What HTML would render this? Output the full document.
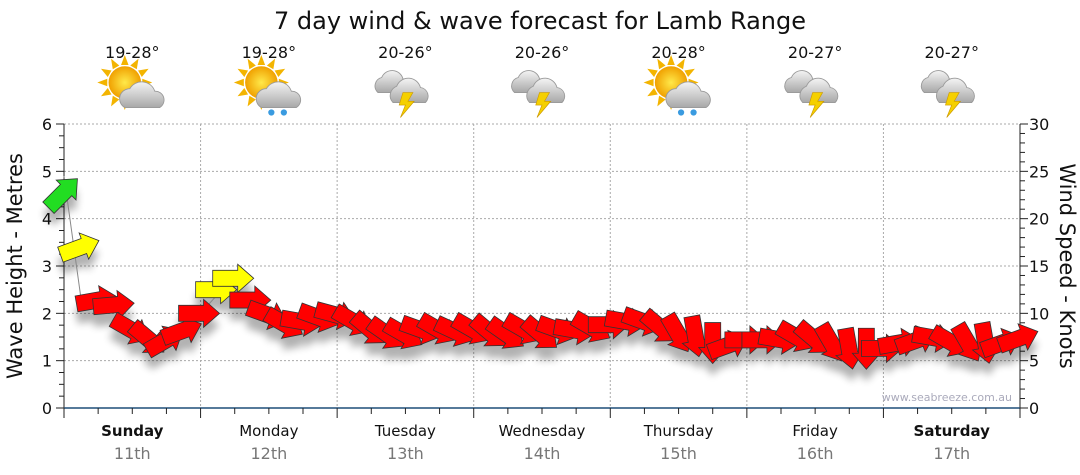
<!DOCTYPE html>
<html><head><meta charset="utf-8"><style>
body{margin:0;background:#fff;}
svg{display:block;font-family:"DejaVu Sans","Liberation Sans",sans-serif;}
</style></head><body>
<svg id="c" width="1080" height="475" viewBox="0 0 1080 475">
<defs>
<filter id="sh" x="-50%" y="-50%" width="200%" height="250%"><feGaussianBlur stdDeviation="4"/></filter>
<radialGradient id="sun" cx="0.5" cy="0.5" r="0.5"><stop offset="0" stop-color="#ffe94a"/><stop offset="1" stop-color="#f0a000"/></radialGradient>
<linearGradient id="cloud" x1="0" y1="0" x2="0" y2="1"><stop offset="0" stop-color="#f4f4f4"/><stop offset="1" stop-color="#a8a8a8"/></linearGradient>
</defs>
<text x="540" y="29" text-anchor="middle" font-size="24" fill="#111">7 day wind &amp; wave forecast for Lamb Range</text>
<g id="grid"></g><g id="axes"></g><g id="icons"></g>
<g id="shadows" filter="url(#sh)" opacity="0.3"></g>
<polyline id="wave" fill="none" stroke="#888" stroke-width="1"/>
<g id="arrows"></g>
<text x="1012" y="401" text-anchor="end" font-size="11" fill="#aab">www.seabreeze.com.au</text>
<text transform="translate(22,266) rotate(-90)" text-anchor="middle" font-size="21" fill="#111">Wave Height - Metres</text>
<text transform="translate(1060,266) rotate(90)" text-anchor="middle" font-size="21" fill="#111">Wind Speed - Knots</text>
</svg>
<script>
const days=["Sunday","Monday","Tuesday","Wednesday","Thursday","Friday","Saturday"];
const dates=["11th","12th","13th","14th","15th","16th","17th"];
const temps=["19-28°","19-28°","20-26°","20-26°","20-28°","20-27°","20-27°"];
const icons=["sun-cloud","sun-rain","storm","storm","sun-rain","storm","storm"];
const windKnots=[22.8,17,11.4,10.9,8.2,7.2,7.2,8.2,10,12.5,13.7,11.4,9.8,8.8,9.1,9.5,9.8,9.1,8.2,7.7,7.7,8.2,8.2,8,8.2,7.9,7.7,8.2,7.7,8.2,8.2,8.4,8.8,9.1,9.1,8.4,7.7,7.4,6.7,6.7,7.2,7.2,7.2,7.4,7.2,6.7,6.1,6.1,6.3,6.9,7.2,7.4,6.9,6.7,6.7,6.9,7.4];
const windDir=[-45,-20,-10,-5,30,40,-30,-20,0,0,0,0,20,30,10,20,15,30,40,35,30,20,30,25,30,40,35,30,40,20,10,30,0,10,20,40,60,80,90,-20,0,0,10,30,40,60,80,90,0,-10,-20,10,30,60,80,-20,-20];
const waveM=[4.9,2.3,2.2,2.1,1.65,1.45,1.4,1.6,2.0,2.4,2.5,2.3,2.0,1.8,1.8,1.9,1.95,1.8,1.65,1.55,1.55,1.65,1.65,1.6,1.65,1.6,1.55,1.65,1.55,1.65,1.65,1.7,1.75,1.8,1.8,1.7,1.55,1.5,1.35,1.35,1.45,1.45,1.45,1.5,1.45,1.35,1.25,1.25,1.3,1.4,1.45,1.5,1.4,1.35,1.35,1.4,1.5];
const yLeft=[0,1,2,3,4,5,6];
const yRight=[0,5,10,15,20,25,30];
const NS="http://www.w3.org/2000/svg";
const X0=64,X1=1020,Y0=408,Y1=124;
const xs=h=>X0+(X1-X0)*h/168;
const yM=m=>Y0-(Y0-Y1)*m/6;
const yK=k=>Y0-(Y0-Y1)*k/30;
function mk(tag,attrs,parent){const e=document.createElementNS(NS,tag);for(const k in attrs)e.setAttribute(k,attrs[k]);parent.appendChild(e);return e;}
const grid=document.getElementById('grid'),axes=document.getElementById('axes'),ic=document.getElementById('icons');
yLeft.forEach(m=>{if(m>0){const l=mk('line',{x1:X0,x2:X1,y1:yM(m),y2:yM(m),stroke:'#aaa','stroke-dasharray':'2,2'},grid);}
 const t=mk('text',{x:X0-12,y:yM(m)+6,'text-anchor':'end','font-size':16,fill:'#111'},axes);t.textContent=m;});
for(let q=0;q<=24;q++){const y=yM(q/4);mk('line',{x1:X0-(q%4==0?8:5),x2:X0,y1:y,y2:y,stroke:'#222'},axes);}
yRight.forEach(k=>{const t=mk('text',{x:X1+9,y:yK(k)+6,'font-size':16,fill:'#111'},axes);t.textContent=k;});
for(let q=0;q<=30;q++){const y=yK(q);mk('line',{x1:X1,x2:X1+(q%5==0?8:5),y1:y,y2:y,stroke:'#222'},axes);}
mk('line',{x1:X0,x2:X0,y1:Y1,y2:Y0,stroke:'#222'},axes);
mk('line',{x1:X1,x2:X1,y1:Y1,y2:Y0,stroke:'#222'},axes);
mk('line',{x1:X0,x2:X1,y1:Y0,y2:Y0,stroke:'#1f4e79','stroke-width':1.5},axes);
for(let h=0;h<=168;h+=6){mk('line',{x1:xs(h),x2:xs(h),y1:Y0,y2:Y0+(h%24==0?10:6),stroke:'#222'},axes);}
days.forEach((d,i)=>{
 if(i>0){const l=mk('line',{x1:xs(i*24),x2:xs(i*24),y1:Y1,y2:Y0,stroke:'#aaa','stroke-dasharray':'2,2'},grid);}
 const cx=xs(i*24+12);
 const bold=(i==0||i==6);
 const t=mk('text',{x:cx,y:436,'text-anchor':'middle','font-size':15,fill:'#111','font-weight':bold?'bold':'normal'},axes);t.textContent=d;
 const t2=mk('text',{x:cx,y:459,'text-anchor':'middle','font-size':16,fill:'#777'},axes);t2.textContent=dates[i];
 const t3=mk('text',{x:cx,y:58,'text-anchor':'middle','font-size':16,fill:'#111'},ic);t3.textContent=temps[i];
 const g=mk('g',{transform:`translate(${cx},90) scale(1.25)`},ic);
 const type=icons[i];
 if(type!='storm'){for(let r=0;r<12;r++){const a=r*30*Math.PI/180;mk('polygon',{points:`${-6+14*Math.cos(a)-3*Math.sin(a)},${-6+14*Math.sin(a)+3*Math.cos(a)} ${-6+14*Math.cos(a)+3*Math.sin(a)},${-6+14*Math.sin(a)-3*Math.cos(a)} ${-6+22*Math.cos(a)},${-6+22*Math.sin(a)}`,fill:'#f3b400'},g);}
  mk('circle',{cx:-6,cy:-6,r:13,fill:'url(#sun)'},g);
  mk('path',{d:'M-6,14 a8,8 0 0 1 4,-15 a11,11 0 0 1 20,2 a7,7 0 0 1 4,13 z',fill:'url(#cloud)',stroke:'#999','stroke-width':0.7},g);
  if(type=='sun-rain'){mk('circle',{cx:2,cy:18,r:2.5,fill:'#3a9be0'},g);mk('circle',{cx:12,cy:18,r:2.5,fill:'#3a9be0'},g);}
 } else {
  mk('path',{d:'M-22,2 a7,7 0 0 1 3,-12 a9,9 0 0 1 17,1 a6,6 0 0 1 3,11 z',fill:'url(#cloud)',stroke:'#999','stroke-width':0.7},g);
  mk('path',{d:'M-10,10 a8,8 0 0 1 3,-13 a10,10 0 0 1 19,1 a7,7 0 0 1 4,12 z',fill:'url(#cloud)',stroke:'#999','stroke-width':0.7},g);
  mk('polygon',{points:'-2,2 6,2 2,9 7,9 -4,22 0,12 -5,12',fill:'#f5d000',stroke:'#c90','stroke-width':0.5},g);
 }
});
const wl=document.getElementById('wave');
wl.setAttribute('points',waveM.map((m,i)=>`${xs(i*3)},${yM(m)}`).join(' '));
const A=document.getElementById('arrows'),S=document.getElementById('shadows');
const shape='-22,-8 3,-8 3,-14 19,0 3,14 3,8 -22,8';
windKnots.forEach((k,i)=>{
 const x=xs(i*3),y=yK(k);
 const col=k>=20?'#22dd22':(k>=12?'#ffff00':'#ff0000');
 mk('polygon',{points:shape,transform:`translate(${x},${y+12}) rotate(${windDir[i]})`,fill:'#000'},S);
 const p=mk('polygon',{points:shape,transform:`translate(${x},${y}) rotate(${windDir[i]})`,fill:col,stroke:'#333','stroke-width':0.8},A);
 
 
});
</script>
</body></html>
